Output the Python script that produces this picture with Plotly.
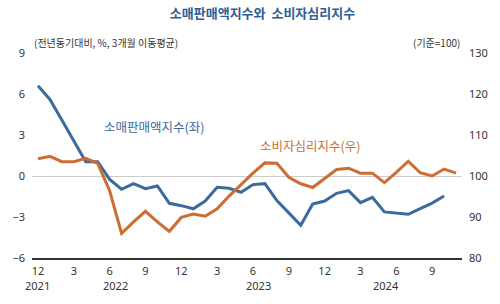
import plotly.graph_objects as go

months = ["2021-12","2022-01","2022-02","2022-03","2022-04","2022-05","2022-06","2022-07","2022-08","2022-09","2022-10","2022-11",
          "2022-12","2023-01","2023-02","2023-03","2023-04","2023-05","2023-06","2023-07","2023-08","2023-09","2023-10","2023-11",
          "2023-12","2024-01","2024-02","2024-03","2024-04","2024-05","2024-06","2024-07","2024-08","2024-09","2024-10","2024-11"]

retail = [6.6, 5.6, 4.1, 2.6, 1.05, 1.05, -0.25, -0.97, -0.56, -0.93, -0.73, -2.0,
          -2.17, -2.4, -1.83, -0.83, -0.9, -1.19, -0.63, -0.56, -1.8, -2.7, -3.6, -2.05,
          -1.83, -1.27, -1.07, -1.95, -1.56, -2.63, -2.7, -2.8, -2.39, -1.98, -1.46]

csi = [104.2, 104.8, 103.5, 103.5, 104.3, 103.1, 96.4, 86.0, 88.8, 91.4, 88.8, 86.5,
       89.9, 90.7, 90.2, 92.0, 95.1, 98.0, 100.7, 103.2, 103.1, 99.7, 98.1, 97.2,
       99.5, 101.6, 101.9, 100.7, 100.7, 98.4, 100.9, 103.6, 100.8, 100.0, 101.7, 100.7]

tick_months = ["12", "3", "6", "9", "12", "3", "6", "9", "12", "3", "6", "9"]
year_labels = ["2021", "2022", "2023", "2024"]
year_pos = [0, 6.5, 18.5, 29.1]

left_ticks = [9, 6, 3, 0, -3, -6]
right_ticks = [130, 120, 110, 100, 90, 80]

BLUE = "#3b6a9d"
ORANGE = "#cd6d32"
TXT = "#333333"
FONT = "Noto Sans CJK KR"
NUMFONT = "Noto Sans"

x_retail = list(range(len(retail)))
x_csi = list(range(len(csi)))

fig = go.Figure()
fig.add_trace(go.Scatter(x=x_retail, y=retail, mode="lines",
                         line=dict(color=BLUE, width=3), yaxis="y", showlegend=False))
fig.add_trace(go.Scatter(x=x_csi, y=csi, mode="lines",
                         line=dict(color=ORANGE, width=3), yaxis="y2", showlegend=False))

fig.update_layout(
    width=500, height=304,
    margin=dict(l=30, r=38, t=53, b=46),
    paper_bgcolor="white", plot_bgcolor="white",
    font=dict(family=FONT, size=11, color=TXT),
    title=dict(text="<b>소매판매액지수와  소비자심리지수</b>", x=0.525, xanchor="center", y=0.955, yanchor="middle",
               font=dict(family=FONT, size=13, color="#2e5f96")),
    xaxis=dict(range=[-0.5, 35.5], tickvals=list(range(0, 36, 3)), ticktext=tick_months,
               showgrid=False, zeroline=False, showline=True, linecolor="#333333", linewidth=2,
               ticks="", ticklabelstandoff=2, tickfont=dict(family=NUMFONT, size=11, color=TXT), fixedrange=True),
    yaxis=dict(range=[-6, 9], tickvals=left_ticks, showgrid=False, zeroline=True,
               zerolinecolor="#cccccc", zerolinewidth=1, ticks="", ticklabelstandoff=6,
               tickfont=dict(family=NUMFONT, size=11, color=TXT)),
    yaxis2=dict(range=[80, 130], tickvals=right_ticks, overlaying="y", side="right",
                showgrid=False, zeroline=False, ticks="", ticklabelstandoff=6,
                tickfont=dict(family=NUMFONT, size=11, color=TXT)),
)

for yl, xp in zip(year_labels, year_pos):
    fig.add_annotation(x=xp, y=-0.132, xref="x", yref="paper", text=yl, showarrow=False,
                       font=dict(family=NUMFONT, size=11, color=TXT), xanchor="center", yanchor="middle")

fig.add_annotation(x=0.0, y=1.049, xref="paper", yref="paper", text="(전년동기대비, %, 3개월 이동평균)",
                   showarrow=False, xanchor="left", yanchor="middle", font=dict(size=10, color=TXT))
fig.add_annotation(x=1.0, y=1.049, xref="paper", yref="paper", text="(기준=100)",
                   showarrow=False, xanchor="right", yanchor="middle", font=dict(size=10, color=TXT))
fig.add_annotation(x=9.7, y=3.6, xref="x", yref="y", text="소매판매액지수(좌)", showarrow=False,
                   xanchor="center", yanchor="middle", font=dict(size=12.5, color=BLUE))
fig.add_annotation(x=22.8, y=2.2, xref="x", yref="y", text="소비자심리지수(우)", showarrow=False,
                   xanchor="center", yanchor="middle", font=dict(size=12.5, color=ORANGE))

fig.write_html("out.html")
